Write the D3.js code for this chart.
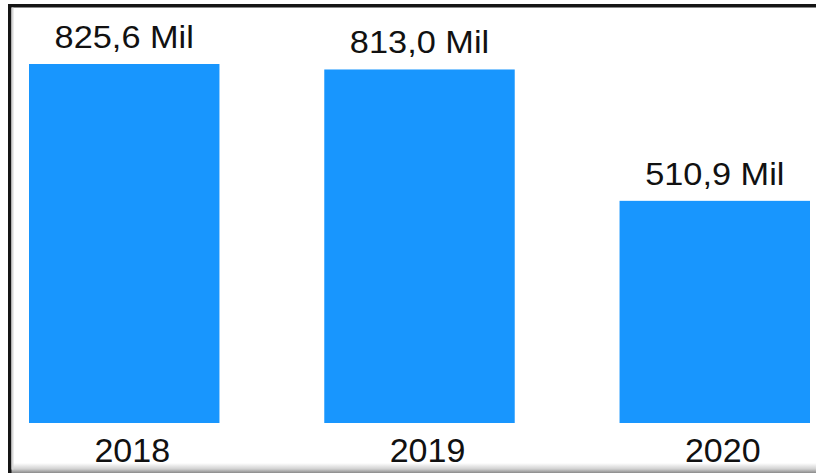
<!DOCTYPE html>
<html>
<head>
<meta charset="utf-8">
<script src="https://cdn.jsdelivr.net/npm/d3@7"></script>
<style>
  html, body { margin: 0; padding: 0; background: #fff; }
  svg { display: block; }
</style>
</head>
<body>
<svg id="chart" width="816" height="475"></svg>
<script>
// Annual totals (millions)
const years = ["2018", "2019", "2020"];
const values = [825.6, 813.0, 510.9];
const valueLabels = ["825,6 Mil", "813,0 Mil", "510,9 Mil"];

const W = 816, H = 475;
const svg = d3.select("#chart");

// Frame with a soft bottom shadow
const defs = svg.append("defs");
const grad = defs.append("linearGradient")
  .attr("id", "shadow").attr("x1", 0).attr("y1", 0).attr("x2", 0).attr("y2", 1);
grad.append("stop").attr("offset", "0%").attr("stop-color", "#ffffff");
grad.append("stop").attr("offset", "60%").attr("stop-color", "#d0d0d0");
grad.append("stop").attr("offset", "100%").attr("stop-color", "#8a8a8a");

svg.append("rect").attr("x", 0).attr("y", 0).attr("width", W).attr("height", H).attr("fill", "#fff");
svg.append("rect").attr("x", 11).attr("y", 463).attr("width", W - 11).attr("height", 10)
  .attr("fill", "url(#shadow)");
svg.append("rect").attr("x", 8).attr("y", 4).attr("width", W - 8).attr("height", 3.5).attr("fill", "#151515");
svg.append("rect").attr("x", 8).attr("y", 4).attr("width", 3.5).attr("height", 469).attr("fill", "#151515");
svg.append("rect").attr("x", 11.5).attr("y", 7.5).attr("width", 2).attr("height", 462).attr("fill", "#d8d8d8");

const x = d3.scaleBand()
  .domain(years)
  .range([29, 810])
  .paddingInner(0.355)
  .paddingOuter(0);

const y = d3.scaleLinear()
  .domain([0, d3.max(values)])
  .range([423, 64]);

const data = years.map((yr, i) => ({ year: yr, value: values[i], label: valueLabels[i] }));

svg.append("g").selectAll("rect")
  .data(data)
  .join("rect")
  .attr("x", d => x(d.year))
  .attr("y", d => y(d.value))
  .attr("width", x.bandwidth())
  .attr("height", d => y(0) - y(d.value))
  .attr("fill", "#1896fe");

const font = "'Liberation Sans', Arial, sans-serif";

// Value labels, slightly widened
svg.append("g").selectAll("text")
  .data(data)
  .join("text")
  .attr("transform", d => `translate(${x(d.year) + x.bandwidth() / 2},${y(d.value) - 16}) scale(1.09,1)`)
  .attr("text-anchor", "middle")
  .attr("font-family", font)
  .attr("font-size", 31.5)
  .attr("fill", "#111")
  .text(d => d.label);

// Category axis drawn without line or ticks
const xAxis = svg.append("g")
  .attr("transform", "translate(8,423)")
  .call(d3.axisBottom(x).tickSize(0).tickPadding(0));
xAxis.select(".domain").remove();
xAxis.selectAll("text")
  .attr("dy", null)
  .attr("y", 39)
  .attr("font-family", font)
  .attr("font-size", 34)
  .attr("fill", "#111");
</script>
</body>
</html>
